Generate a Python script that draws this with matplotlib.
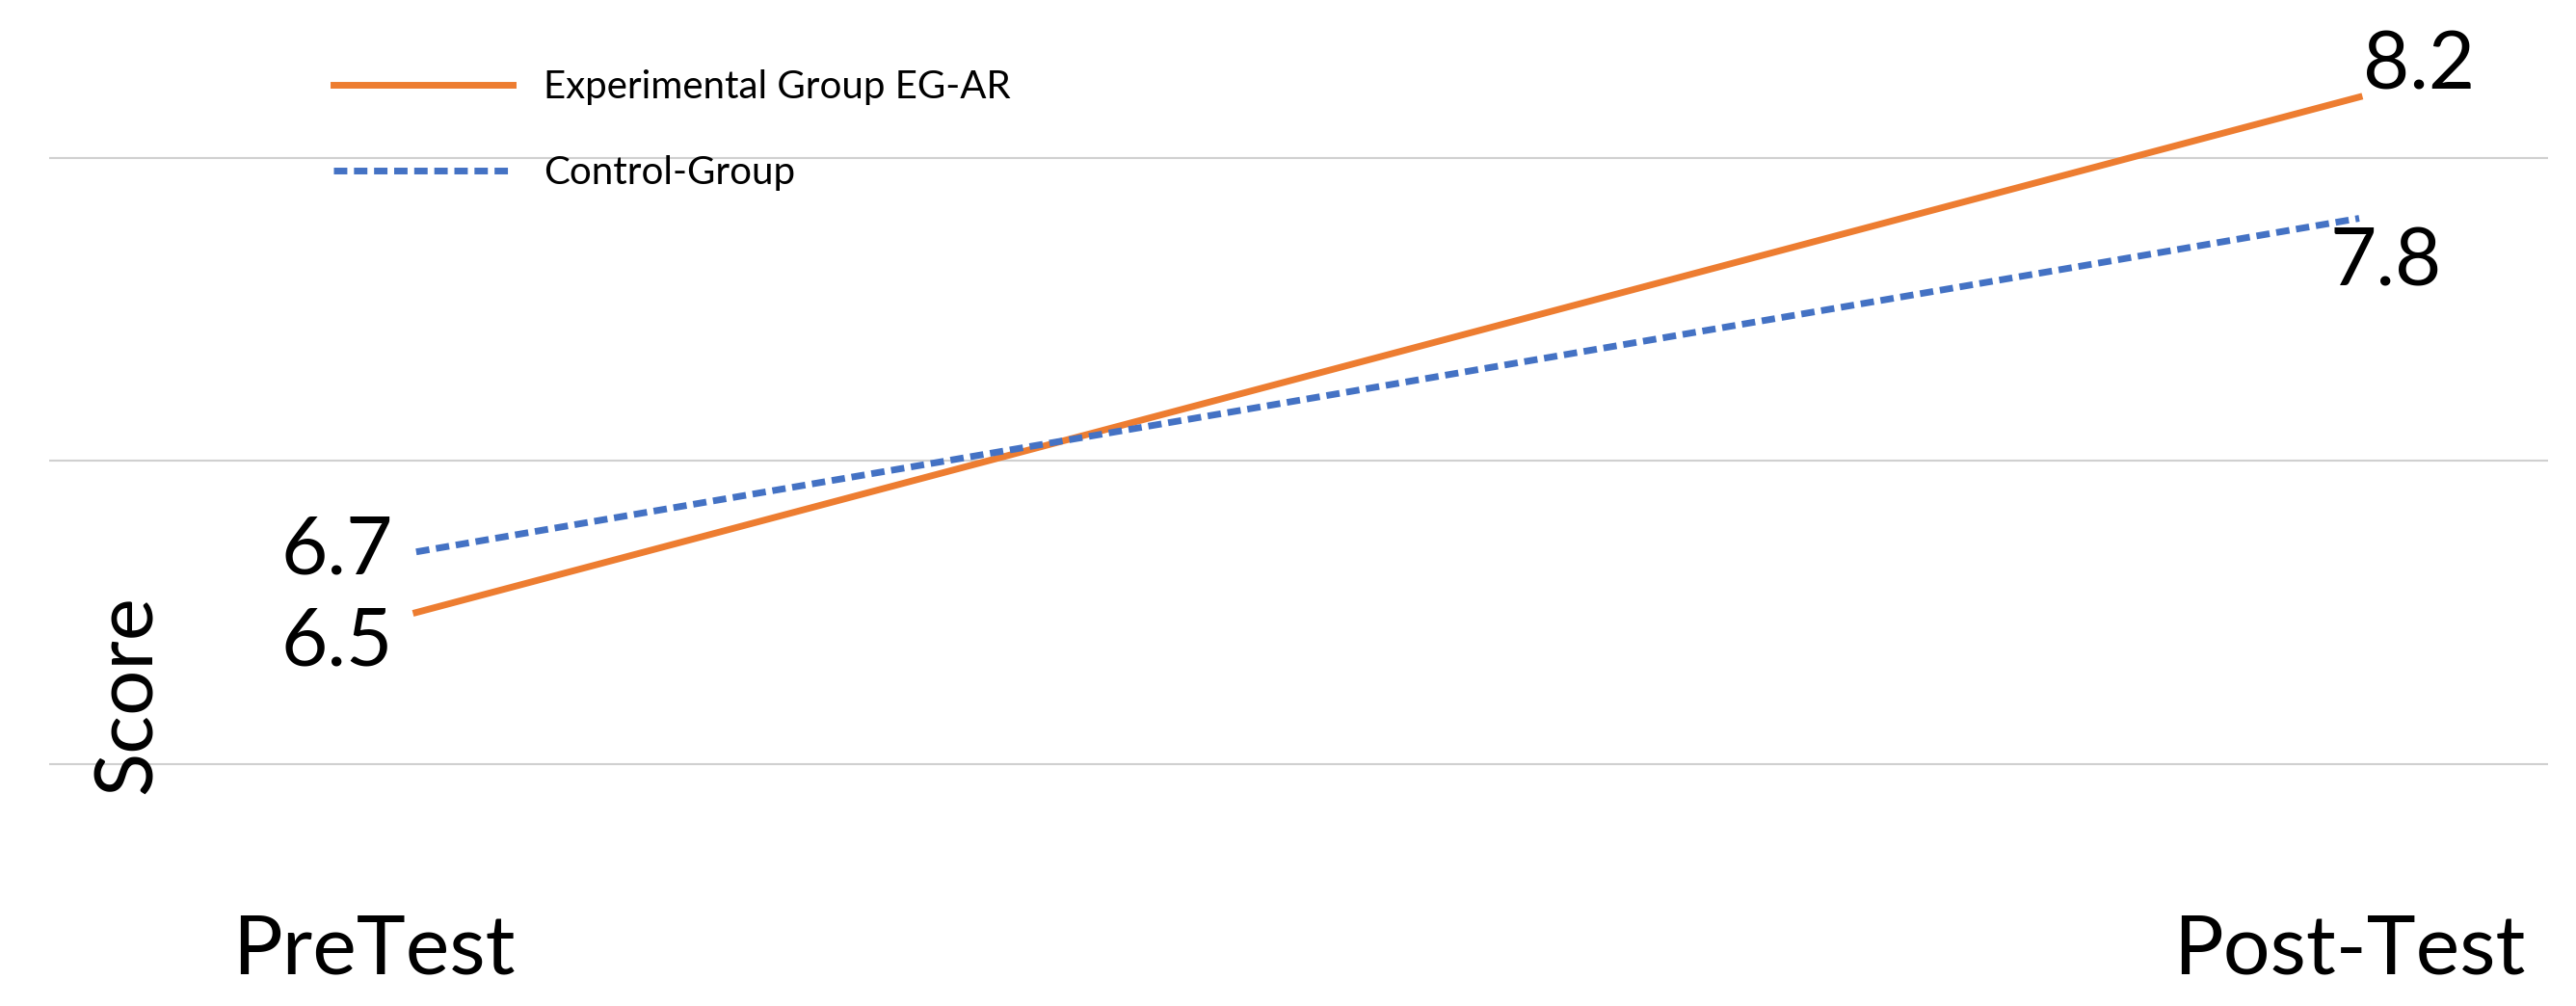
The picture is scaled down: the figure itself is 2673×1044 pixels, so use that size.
import matplotlib
matplotlib.use('Agg')
import matplotlib.pyplot as plt

plt.rcParams['font.family'] = ['Lato', 'DejaVu Sans']

phases = ['PreTest', 'Post-Test']
experimental = [6.5, 8.2]
control = [6.7, 7.8]

fig = plt.figure(figsize=(26.73, 10.44), dpi=100)
ax = fig.add_axes([0.019, 0.15, 0.97, 0.85])

x = [0, 1]
ax.plot(x, experimental, color='#ED7D31', lw=5, label='Experimental Group EG-AR')
ax.plot(x, control, color='#4472C4', lw=5, ls=(0, (2, 1)), label='Control-Group')

ax.set_xlim(-0.189, 1.097)
ax.set_ylim(5.7, 8.52)
ax.set_yticks([6, 7, 8])
ax.grid(axis='y', color='#d0d0d0', lw=1.5)
ax.set_axisbelow(True)
ax.tick_params(left=False, bottom=False, labelleft=False, labelbottom=False)
for s in ax.spines.values():
    s.set_visible(False)

# value labels
ax.text(-0.012, experimental[0] - 0.1, f'{experimental[0]}', ha='right', va='center', fontsize=60)
ax.text(-0.012, control[0], f'{control[0]}', ha='right', va='center', fontsize=60)
ax.text(1.002, experimental[1] + 0.1, f'{experimental[1]}', ha='left', va='center', fontsize=60)
ax.text(0.985, control[1] - 0.15, f'{control[1]}', ha='left', va='center', fontsize=60)

# category labels
fig.text(0.145, 0.055, phases[0], ha='center', va='center', fontsize=62)
fig.text(0.912, 0.055, phases[1], ha='center', va='center', fontsize=62)
fig.text(0.05, 0.31, 'Score', rotation=90, ha='center', va='center', fontsize=60)

ax.legend(loc='upper left', bbox_to_anchor=(0.1, 0.96), frameon=False,
          fontsize=29, handlelength=4.6, labelspacing=1.3, handletextpad=0.8)

fig.savefig('out.png', dpi=100)
